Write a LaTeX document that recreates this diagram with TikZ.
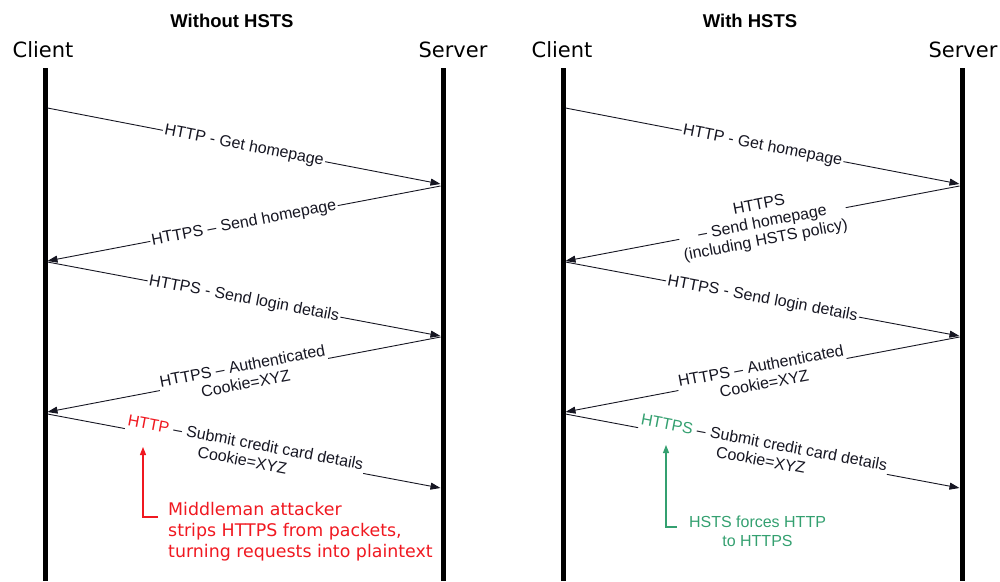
\documentclass[tikz,border=0pt]{standalone}
\usepackage{fontspec}
\setmainfont{Liberation Sans}
\newfontfamily\dejavu{DejaVu Sans}
\usetikzlibrary{arrows.meta}
\definecolor{attackred}{RGB}{240,24,32}
\definecolor{hstsgreen}{RGB}{52,160,112}
\definecolor{ink}{RGB}{22,22,34}
\tikzset{
  lifeline/.style={line width=5pt, black},
  msg/.style={draw=ink, line width=0.9pt, -{Triangle[length=10pt,width=7pt]}},
  lbl/.style={sloped, fill=white, inner xsep=1.5pt, inner ysep=1pt,
    font=\fontsize{16}{18}\selectfont, align=center, text=ink},
  actor/.style={font=\dejavu\fontsize{21}{24}\selectfont, anchor=base, inner sep=0pt},
  paneltitle/.style={font=\bfseries\fontsize{18.5}{22}\selectfont, anchor=base, inner sep=0pt},
  pointer/.style={line width=1.1pt, -{Triangle[length=8pt,width=6pt]}},
}
\begin{document}
\begin{tikzpicture}[x=1pt,y=-1pt]
\useasboundingbox (0,0) rectangle (1000,581);

% ---------- left panel: without HSTS ----------
\node[paneltitle] (L-title) at (232,27) {Without HSTS};
\node[actor] (L-client) at (43,57) {Client};
\node[actor] (L-server) at (453,57) {Server};
\coordinate (L-ctop) at (45,68);  \coordinate (L-cbot) at (45,581);
\coordinate (L-stop) at (443,68); \coordinate (L-sbot) at (443,581);
\draw[lifeline] (L-ctop) -- (L-cbot);
\draw[lifeline] (L-stop) -- (L-sbot);

\coordinate (L-c1) at (47.5,108); \coordinate (L-s1) at (440.5,184);
\coordinate (L-s2) at (440.5,186); \coordinate (L-c2) at (47.5,261);
\coordinate (L-c3) at (47.5,262); \coordinate (L-s3) at (440.5,336);
\coordinate (L-s4) at (440.5,337); \coordinate (L-c4) at (47.5,412);
\coordinate (L-c5) at (47.5,414); \coordinate (L-s5) at (440.5,488);

\draw[msg] (L-c1) -- node[lbl] {HTTP - Get homepage} (L-s1);
\draw[msg] (L-s2) -- node[lbl] {HTTPS -- Send homepage} (L-c2);
\draw[msg] (L-c3) -- node[lbl] {HTTPS - Send login details} (L-s3);
\draw[msg] (L-s4) -- node[lbl] {HTTPS -- Authenticated\\Cookie=XYZ} (L-c4);
\draw[msg] (L-c5) -- node[lbl] {\textcolor{attackred}{HTTP} -- Submit credit card details\\Cookie=XYZ} (L-s5);

% attacker note
\node[font=\dejavu\fontsize{17.4}{21}\selectfont, text=attackred, align=left,
      anchor=north west, inner sep=0pt] (L-note) at (168,501.8)
  {Middleman attacker\\strips HTTPS from packets,\\turning requests into plaintext};
\coordinate (L-pstart) at (158,517);
\coordinate (L-pcorner) at (143,517);
\coordinate (L-ptip) at (143,447);
\draw[pointer, attackred] (L-pstart) -- (L-pcorner) -- (L-ptip);

% ---------- right panel: with HSTS ----------
\node[paneltitle] (R-title) at (750,27) {With HSTS};
\node[actor] (R-client) at (562,57) {Client};
\node[actor] (R-server) at (963,57) {Server};
\coordinate (R-ctop) at (563,68);  \coordinate (R-cbot) at (563,581);
\coordinate (R-stop) at (962,68); \coordinate (R-sbot) at (962,581);
\draw[lifeline] (R-ctop) -- (R-cbot);
\draw[lifeline] (R-stop) -- (R-sbot);

\coordinate (R-c1) at (565.5,108); \coordinate (R-s1) at (959.5,184);
\coordinate (R-s2) at (959.5,186); \coordinate (R-c2) at (565.5,261);
\coordinate (R-c3) at (565.5,262); \coordinate (R-s3) at (959.5,336);
\coordinate (R-s4) at (959.5,337); \coordinate (R-c4) at (565.5,412);
\coordinate (R-c5) at (565.5,414); \coordinate (R-s5) at (959.5,488);

\draw[msg] (R-c1) -- node[lbl] {HTTP - Get homepage} (R-s1);
\draw[msg] (R-s2) -- node[lbl] {HTTPS\\-- Send homepage\\(including HSTS policy)} (R-c2);
\draw[msg] (R-c3) -- node[lbl] {HTTPS - Send login details} (R-s3);
\draw[msg] (R-s4) -- node[lbl] {HTTPS -- Authenticated\\Cookie=XYZ} (R-c4);
\draw[msg] (R-c5) -- node[lbl] {\textcolor{hstsgreen}{HTTPS} -- Submit credit card details\\Cookie=XYZ} (R-s5);

% HSTS note
\node[font=\fontsize{16}{19}\selectfont, text=hstsgreen, align=center,
      anchor=north, inner sep=0pt] (R-note) at (757.5,516)
  {HSTS forces HTTP\\to HTTPS};
\coordinate (R-pstart) at (677,527);
\coordinate (R-pcorner) at (666,527);
\coordinate (R-ptip) at (666,445);
\draw[pointer, hstsgreen] (R-pstart) -- (R-pcorner) -- (R-ptip);
\end{tikzpicture}
\end{document}
